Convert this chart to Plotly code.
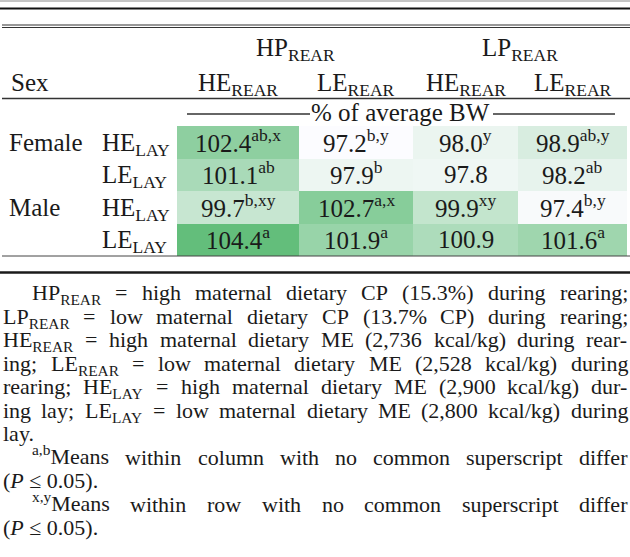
import re
import plotly.graph_objects as go

# ---------------- data ----------------
row_sex = ["Female", "", "Male", ""]
row_lay = ["HE", "LE", "HE", "LE"]
protein_groups = ["HP", "LP"]
rear_energy = ["HE", "LE", "HE", "LE"]
values = [
    [102.4, 97.2, 98.0, 98.9],
    [101.1, 97.9, 97.8, 98.2],
    [99.7, 102.7, 99.9, 97.4],
    [104.4, 101.9, 100.9, 101.6],
]
superscripts = [
    ["ab,x", "b,y", "y", "ab,y"],
    ["ab", "b", "", "ab"],
    ["b,xy", "a,x", "xy", "b,y"],
    ["a", "a", "", "a"],
]
corner_label = "Sex"
unit_label = "% of average BW"
# (text, indented, justified)
note_lines = [
    ("HP<sub>REAR</sub> = high maternal dietary CP (15.3%) during rearing;", True, True),
    ("LP<sub>REAR</sub> = low maternal dietary CP (13.7% CP) during rearing;", False, True),
    ("HE<sub>REAR</sub> = high maternal dietary ME (2,736 kcal/kg) during rear-", False, True),
    ("ing; LE<sub>REAR</sub> = low maternal dietary ME (2,528 kcal/kg) during", False, True),
    ("rearing; HE<sub>LAY</sub> = high maternal dietary ME (2,900 kcal/kg) dur-", False, True),
    ("ing lay; LE<sub>LAY</sub> = low maternal dietary ME (2,800 kcal/kg) during", False, True),
    ("lay.", False, False),
    ("<sup>a,b</sup>Means within column with no common superscript differ", True, True),
    ("(<i>P</i> ≤ 0.05).", False, False),
    ("<sup>x,y</sup>Means within row with no common superscript differ", True, True),
    ("(<i>P</i> ≤ 0.05).", False, False),
]

# ---------------- layout constants ----------------
W, H = 630, 557
SERIF = "Liberation Serif"
TXT = "#1a1a1a"
ASC, DESC = 0.891, 0.216
col_edges = [177, 299, 413, 518, 627]
row_edges = [126, 158.5, 191, 223.5, 256]

# Times / Liberation Serif advance widths (per 1000 em)
WID = {' ': 250, '!': 333, '%': 833, '(': 333, ')': 333, ',': 250, '-': 333, '.': 250,
       '/': 278, ':': 278, ';': 278, '=': 564, '≤': 549,
       'A': 722, 'B': 667, 'C': 667, 'D': 722, 'E': 611, 'F': 556, 'G': 722, 'H': 722,
       'I': 333, 'J': 389, 'K': 722, 'L': 611, 'M': 889, 'N': 722, 'O': 722, 'P': 556,
       'Q': 722, 'R': 667, 'S': 556, 'T': 611, 'U': 722, 'V': 722, 'W': 944, 'X': 722,
       'Y': 722, 'Z': 611,
       'a': 444, 'b': 500, 'c': 444, 'd': 500, 'e': 444, 'f': 333, 'g': 500, 'h': 500,
       'i': 278, 'j': 278, 'k': 500, 'l': 278, 'm': 778, 'n': 500, 'o': 500, 'p': 500,
       'q': 500, 'r': 333, 's': 389, 't': 278, 'u': 500, 'v': 500, 'w': 722, 'x': 500,
       'y': 500, 'z': 444}
for d in "0123456789":
    WID[d] = 500


def text_width(s, fs):
    total, scale = 0.0, 1.0
    for tok in re.split(r'(<[^>]+>)', s):
        if tok.startswith('<'):
            t = tok.lower()
            if t in ('<sub>', '<sup>'):
                scale = 0.7
            elif t in ('</sub>', '</sup>'):
                scale = 1.0
            continue
        for ch in tok:
            total += WID.get(ch, 500) * scale
    return total * fs / 1000.0


annotations = []


def add_text(x, baseline, text, size, xanchor='left', color=TXT):
    if '<sup>' in text and '<sub>' not in text:
        y, ya = baseline + DESC * size, 'bottom'
    else:
        y, ya = baseline - ASC * size, 'top'
    annotations.append(dict(x=x, y=y, xref='x', yref='y', text=text, showarrow=False,
                            xanchor=xanchor, yanchor=ya, borderpad=0, borderwidth=0,
                            font=dict(family=SERIF, size=size, color=color)))


fig = go.Figure()

zmin = min(min(r) for r in values)
zmax = max(max(r) for r in values)
fig.add_trace(go.Heatmap(
    z=values, x=col_edges, y=row_edges,
    colorscale=[[0, '#FCFCFF'], [1, '#63BE7B']], zmin=zmin, zmax=zmax,
    showscale=False, hoverinfo='skip', xgap=0, ygap=0,
))

FS = 25
col_centers = [(col_edges[i] + col_edges[i + 1]) / 2 for i in range(4)]
row_centers = [(row_edges[i] + row_edges[i + 1]) / 2 for i in range(4)]

# header
group_centers = [(col_edges[0] + col_edges[2]) / 2, (col_edges[2] + col_edges[4]) / 2]
for g, xc in zip(protein_groups, group_centers):
    add_text(xc, 56, f"{g}<sub>REAR</sub>", FS, 'center')
add_text(11, 91, corner_label, FS, 'left')
for e, xc in zip(rear_energy, col_centers):
    add_text(xc, 91, f"{e}<sub>REAR</sub>", FS, 'center')
add_text(400, 121.5, unit_label, FS, 'center')

# rows
for i in range(4):
    base = row_centers[i] + 9
    if row_sex[i]:
        add_text(9, base, row_sex[i], FS, 'left')
    add_text(102, base, f"{row_lay[i]}<sub>LAY</sub>", FS, 'left')
    for j in range(4):
        v = values[i][j]
        s = superscripts[i][j]
        txt = f"{v:.1f}" + (f"<sup>{s}</sup>" if s else "")
        add_text(col_centers[j], base, txt, FS, 'center')

# footnotes
NFS = 22
left0, left_ind, right = 3, 32, 628
for k, (line, indent, justify) in enumerate(note_lines):
    base = 300 + 23.5 * k
    x0 = left_ind if indent else left0
    if not justify:
        add_text(x0, base, line, NFS, 'left')
        continue
    words = line.split(' ')
    ws = [text_width(w, NFS) for w in words]
    gap = (right - x0 - sum(ws)) / (len(words) - 1)
    x = x0
    for w, wd in zip(words, ws):
        add_text(x, base, w, NFS, 'left')
        x += wd + gap

# rules
shapes = []


def hline(y, x0, x1, width, color):
    shapes.append(dict(type='line', xref='x', yref='y', x0=x0, x1=x1, y0=y, y1=y,
                       line=dict(color=color, width=width), layer='above'))


hline(1, 0, 630, 1, '#8a8a8a')
hline(8.5, 0, 630, 2, '#111111')
hline(25, 2, 630, 1.2, '#333333')
hline(27.5, 2, 630, 1.2, '#333333')
hline(98.5, 2, 630, 1.5, '#333333')
hline(114, 187, 310, 1.5, '#333333')
hline(114, 493, 615, 1.5, '#333333')
hline(256, 2, 630, 1, '#444444')
hline(272.5, 0, 630, 2.5, '#1a1a1a')

fig.update_layout(
    width=W, height=H,
    margin=dict(l=0, r=0, t=0, b=0),
    paper_bgcolor='white', plot_bgcolor='white',
    xaxis=dict(range=[0, W], visible=False, fixedrange=True, domain=[0, 1]),
    yaxis=dict(range=[H, 0], visible=False, fixedrange=True, domain=[0, 1]),
    annotations=annotations, shapes=shapes, showlegend=False,
)

fig.write_html("out.html", config={"displayModeBar": False},
               post_script="document.body.style.margin='0';document.body.style.overflow='hidden';")
